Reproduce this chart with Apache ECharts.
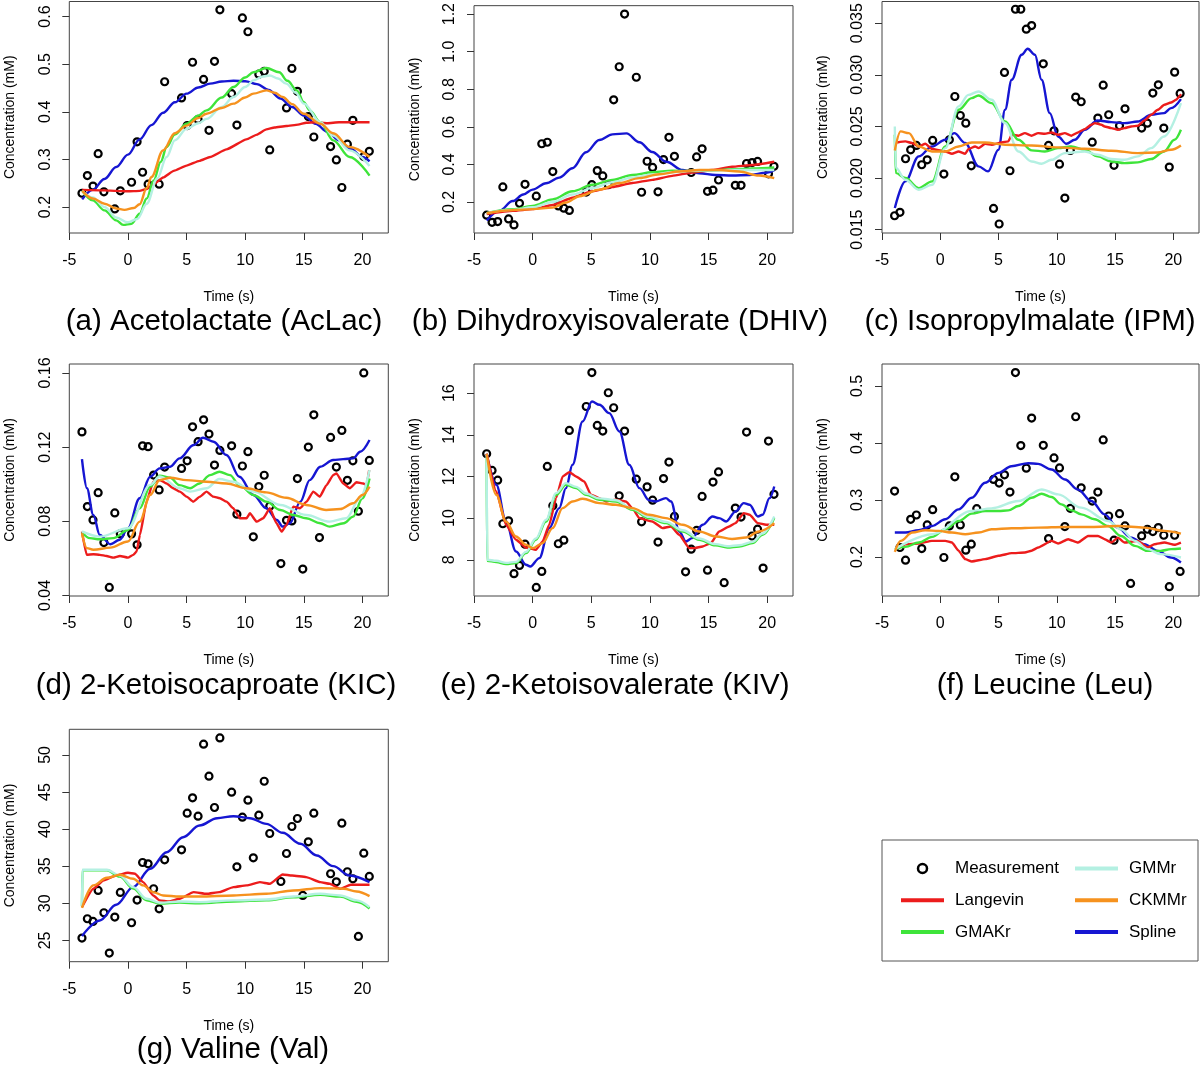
<!DOCTYPE html>
<html><head><meta charset="utf-8">
<script src="https://cdn.jsdelivr.net/npm/echarts@6/dist/echarts.min.js"></script>
<style>html,body{margin:0;padding:0;background:#fff}#chart{width:1200px;height:1069px}</style>
</head><body><div id="chart"></div>
<script>
// ---------- measurement time points (s) ----------
const times = [-3.92,-3.46,-2.98,-2.54,-2.05,-1.59,-1.12,-0.65,0.31,0.78,1.25,1.72,2.19,2.66,3.13,4.57,5.05,5.51,5.98,6.45,6.91,7.38,7.84,8.84,9.29,9.76,10.23,10.69,11.16,11.62,12.09,13.04,13.52,13.98,14.45,14.91,15.38,15.85,16.33,17.28,17.77,18.24,18.71,19.18,19.65,20.11,20.58];

const panelTitles = ['(a) Acetolactate (AcLac)','(b) Dihydroxyisovalerate (DHIV)','(c) Isopropylmalate (IPM)','(d) 2-Ketoisocaproate (KIC)','(e) 2-Ketoisovalerate (KIV)','(f) Leucine (Leu)','(g) Valine (Val)'];
const xTicks = [-5,0,5,10,15,20];
const yTicks_a = [0.2,0.3,0.4,0.5,0.6];
const yTicks_b = [0.2,0.4,0.6,0.8,1.0,1.2];
const yTicks_c = [0.015,0.020,0.025,0.030,0.035];
const yTicks_d = [0.04,0.08,0.12,0.16];
const yTicks_e = [8,10,12,14,16];
const yTicks_f = [0.2,0.3,0.4,0.5];
const yTicks_g = [25,30,35,40,45,50];
const yRange_a = [0.1455,0.6315];
const yRange_b = [0.035,1.245];
const yRange_c = [0.01468,0.0371];
const yRange_d = [0.0397,0.1648];
const yRange_e = [6.26,17.40];
const yRange_f = [0.1313,0.5384];
const yRange_g = [22.13,53.45];

// ---------- measurements (null = not shown) ----------
const meas_a = [0.229,0.266,0.244,0.312,0.232,null,0.196,0.234,0.252,0.337,0.273,0.248,null,0.248,0.463,0.429,0.371,0.504,0.384,0.468,0.361,0.506,0.614,0.438,0.372,0.597,0.568,null,0.479,0.485,0.320,null,0.408,0.491,0.443,null,0.390,0.347,null,0.327,0.299,0.241,0.332,0.382,null,0.306,0.317];
const meas_b = [0.130,0.092,0.096,0.280,0.110,0.078,0.193,0.294,0.231,0.510,0.518,0.362,0.179,0.167,0.155,0.253,0.292,0.367,0.339,0.292,0.744,0.920,1.200,0.864,0.252,0.417,0.384,0.254,0.426,0.544,0.443,null,0.357,0.440,0.483,0.257,0.263,0.317,null,0.289,0.289,0.405,0.410,0.416,null,0.350,0.390];
const meas_c = [0.01635,0.01668,0.02187,0.02274,0.02316,0.02129,0.02177,0.02365,0.02039,0.02371,0.0279,0.02606,0.02532,0.02119,null,0.01706,0.01555,0.03023,0.02071,0.03635,0.03635,0.03442,0.03477,0.03106,0.02316,0.02458,0.02135,0.01806,0.02268,0.02784,0.02739,0.02348,0.02581,0.029,0.02613,0.02123,0.02506,0.02671,null,0.02484,0.02532,0.02823,0.02903,0.02484,0.02106,0.03026,0.0282];
const meas_d = [0.1282,0.0879,0.0807,0.0954,0.0685,0.0443,0.0845,0.0732,0.0732,0.0673,0.1207,0.1202,0.1049,0.0969,0.1092,0.1085,0.1126,0.1309,0.1229,0.1347,0.127,0.1103,0.1182,0.1207,0.0838,0.1098,0.1175,0.0716,0.0987,0.1048,0.0881,0.0572,0.0805,0.0802,0.103,0.0542,0.12,0.1374,0.0712,0.1252,0.1092,0.129,0.1021,0.1126,0.0854,0.16,0.1128];
const meas_e = [13.09,12.29,11.82,9.73,9.87,7.33,7.73,8.75,6.67,7.44,12.48,10.59,8.77,8.94,14.21,15.36,16.99,14.45,14.18,16.02,15.30,11.07,14.18,11.87,9.82,11.50,10.86,8.85,11.90,12.69,10.08,7.42,8.51,9.41,11.04,7.50,11.73,12.22,6.90,10.48,10.05,14.13,9.14,9.47,7.60,13.70,11.14];
const meas_f = [0.3154,0.2164,0.1942,0.2659,0.2734,0.2146,0.256,0.2828,0.1989,0.2542,0.3404,0.256,0.2117,0.2222,0.2845,0.3358,0.3294,0.3439,0.3136,0.5233,0.3952,0.3556,0.4435,0.3957,0.2321,0.3736,0.3561,0.2531,0.2851,0.4458,0.3212,0.2979,0.3136,0.4051,0.2717,0.2292,0.2758,0.2542,0.1534,0.2367,0.2484,0.2443,0.2513,0.2379,0.1476,0.2379,0.1744];
const meas_g = [25.31,27.92,27.56,31.73,28.73,23.29,28.14,31.46,27.38,30.43,35.50,35.32,31.96,29.26,35.86,37.21,42.15,44.21,41.74,51.44,47.13,42.91,52.29,44.97,34.92,41.61,43.90,36.13,41.88,46.45,39.41,32.94,36.71,40.35,41.43,31.06,38.29,42.15,null,33.98,32.90,40.80,34.25,33.30,25.54,36.76,33.62];

// ---------- fitted curves: [time, concentration] ----------
const a_spline = [[-3.9,0.216],[-3,0.236],[-2,0.259],[-1,0.284],[0,0.31],[1,0.342],[2,0.372],[3,0.398],[4,0.42],[5,0.438],[6,0.451],[7,0.459],[8,0.4635],[9,0.465],[10,0.464],[11,0.458],[12,0.446],[13,0.428],[14,0.41],[15,0.392],[16,0.375],[17,0.358],[18,0.34],[19,0.322],[20,0.305],[20.6,0.296]];
const a_langevin = [[-3.9,0.236],[-2,0.235],[-1,0.234],[0,0.233],[1,0.234],[1.6,0.238],[2.2,0.248],[3,0.262],[3.9,0.276],[5,0.287],[6.1,0.297],[7,0.305],[8.4,0.321],[10.1,0.342],[11,0.352],[11.8,0.363],[12.5,0.367],[13.5,0.37],[14.5,0.373],[15.2,0.377],[16,0.378],[17,0.376],[18,0.378],[19,0.378],[20.6,0.378]];
const a_gmakr = [[-3.9,0.234],[-3,0.214],[-2,0.193],[-1,0.172],[-0.4,0.1625],[0.3,0.165],[1,0.186],[1.6,0.218],[2.2,0.256],[2.8,0.295],[3.3,0.326],[4,0.352],[5,0.375],[6,0.392],[6.7,0.403],[8,0.43],[9,0.452],[10,0.472],[10.7,0.483],[11.8,0.492],[12.9,0.483],[13.6,0.465],[14.4,0.445],[15,0.42],[15.5,0.403],[16.4,0.378],[17.5,0.34],[18.9,0.305],[20.6,0.266]];
const a_gmmr = [[-3.9,0.234],[-3,0.22],[-2,0.2],[-1,0.178],[0,0.168],[0.8,0.175],[1.6,0.207],[2.5,0.26],[3.3,0.305],[4,0.34],[5,0.364],[6,0.376],[6.7,0.385],[8,0.41],[9,0.431],[10,0.452],[10.7,0.466],[11.5,0.474],[12.1,0.476],[12.8,0.47],[13.5,0.459],[14.3,0.44],[15,0.417],[16.4,0.378],[17.5,0.35],[18.9,0.319],[20.6,0.286]];
const a_ckmmr = [[-3.9,0.234],[-3,0.218],[-2,0.207],[-1,0.197],[-0.3,0.194],[0.5,0.198],[1,0.206],[1.6,0.24],[2,0.263],[3,0.319],[4,0.355],[5,0.371],[6,0.387],[6.7,0.396],[8,0.408],[9,0.417],[10,0.43],[10.7,0.438],[11.8,0.445],[12.5,0.44],[13.2,0.431],[14,0.416],[15,0.396],[16.4,0.375],[17.5,0.355],[18.9,0.326],[20.6,0.305]];

const b_spline = [[-3.92,0.101],[-2.84,0.153],[-1.7,0.205],[-0.8,0.24],[0,0.266],[1.14,0.3],[2.27,0.33],[3.4,0.38],[4.55,0.465],[5.68,0.53],[6.8,0.56],[8,0.565],[9.1,0.518],[10.2,0.466],[11.4,0.414],[12.8,0.37],[14.2,0.353],[15.6,0.344],[17,0.341],[18.5,0.344],[19.9,0.356],[20.6,0.37]];
const b_langevin = [[-3.92,0.136],[-1.7,0.153],[0,0.162],[1.7,0.184],[3.4,0.223],[5.1,0.257],[6.8,0.28],[8.5,0.301],[10.2,0.318],[11.9,0.339],[13.6,0.357],[15.3,0.37],[17,0.388],[18.75,0.397],[20.6,0.414]];
const b_gmakr = [[-3.92,0.141],[-1.7,0.162],[0,0.179],[1.7,0.214],[3.4,0.257],[5.1,0.292],[6.8,0.318],[8.5,0.344],[10.2,0.358],[11.9,0.366],[13.6,0.365],[15.3,0.368],[17,0.374],[18.75,0.378],[20.6,0.384]];
const b_gmmr = [[-3.92,0.141],[-1.7,0.158],[0,0.172],[1.7,0.2],[3.4,0.24],[5.1,0.275],[6.8,0.305],[8.5,0.33],[10.2,0.345],[11.9,0.358],[13.6,0.366],[15.3,0.368],[17,0.37],[18.75,0.37],[20.6,0.37]];
const b_ckmmr = [[-3.92,0.141],[-1.7,0.157],[0,0.162],[1.7,0.17],[2.84,0.197],[4,0.231],[5.68,0.266],[7.4,0.301],[9.1,0.327],[10.8,0.348],[12.5,0.362],[14.2,0.37],[15.9,0.37],[17.6,0.362],[19.3,0.341],[20.6,0.327]];

const c_spline = [[-3.9,0.0171],[-3,0.01968],[-1.85,0.0221],[-0.7,0.02306],[0.43,0.02371],[1.2,0.02435],[2.14,0.02339],[3.28,0.02113],[4.1,0.02065],[4.99,0.02274],[5.56,0.02661],[6.13,0.02952],[6.98,0.03194],[7.5,0.03252],[8.12,0.03194],[8.69,0.02952],[9.4,0.02629],[10.1,0.02403],[10.83,0.02332],[11.54,0.02371],[12.4,0.02468],[13.5,0.02558],[14.67,0.02542],[15.8,0.02532],[16.95,0.02548],[18.1,0.02613],[19.2,0.02629],[19.8,0.02677],[20.65,0.02765]];
const c_langevin = [[-3.7,0.02345],[-2.99,0.02355],[-2.42,0.02339],[-1.85,0.02306],[-1.28,0.02332],[-0.71,0.02281],[0.43,0.02258],[1.0,0.02235],[1.57,0.02258],[2.14,0.02235],[2.42,0.02281],[2.99,0.02306],[3.28,0.0229],[3.85,0.02332],[4.42,0.02323],[5.27,0.02345],[5.84,0.02355],[6.13,0.02419],[6.7,0.0241],[7.26,0.02435],[7.83,0.0241],[8.4,0.02435],[8.97,0.02429],[9.54,0.02442],[10.11,0.02419],[10.68,0.02435],[11.25,0.0241],[11.82,0.02442],[12.39,0.02474],[12.96,0.02516],[13.25,0.02532],[13.82,0.02516],[14.1,0.025],[14.67,0.02484],[15.24,0.02468],[15.81,0.02484],[16.38,0.025],[16.95,0.02506],[17.52,0.02558],[18.09,0.02613],[18.66,0.02661],[19.23,0.0271],[19.8,0.02732],[20.23,0.02758],[20.51,0.0279],[20.66,0.02813]];
const c_gmakr = [[-3.9,0.0242],[-3.82,0.0205],[-3,0.02],[-1.85,0.01903],[-0.7,0.01968],[0.43,0.02306],[1.57,0.02661],[2.7,0.02774],[3.28,0.028],[4.4,0.02726],[5.56,0.02548],[6.7,0.02371],[7.84,0.02268],[8.97,0.02258],[10.1,0.0229],[11.25,0.02306],[12.4,0.02274],[13.5,0.0221],[14.67,0.02161],[15.8,0.02145],[16.95,0.02152],[18.1,0.02184],[19.2,0.02258],[20.1,0.02371],[20.65,0.02468]];
const c_gmmr = [[-3.9,0.025],[-3.82,0.021],[-3,0.01984],[-1.85,0.01887],[-0.7,0.01935],[0.43,0.0229],[1.57,0.02694],[2.42,0.02806],[3.28,0.02839],[4.4,0.02758],[5.56,0.02532],[6.7,0.02258],[7.84,0.02161],[8.7,0.02139],[9.54,0.02177],[10.7,0.02242],[12.4,0.02258],[13.5,0.02226],[14.67,0.02184],[15.8,0.02177],[16.95,0.0221],[18.1,0.0229],[19.2,0.02403],[20.65,0.02726]];
const c_ckmmr = [[-3.9,0.02268],[-3.4,0.02452],[-2.7,0.02435],[-1.85,0.02306],[-0.7,0.02258],[0.43,0.02258],[1.57,0.02306],[2.7,0.02345],[3.85,0.02345],[5.56,0.02323],[7.84,0.02316],[10.1,0.02297],[12.4,0.02284],[14.67,0.02265],[16.95,0.02242],[18.65,0.02248],[19.8,0.02274],[20.65,0.02316]];

const d_spline = [[-3.92,0.1135],[-3.5,0.0978],[-2.95,0.0834],[-2.4,0.0726],[-1.5,0.0676],[-0.7,0.07],[0,0.0762],[1,0.0924],[1.9,0.104],[2.7,0.1085],[3.6,0.1094],[4.4,0.1139],[5.6,0.1211],[6.4,0.125],[7.3,0.1229],[8.4,0.1157],[9.5,0.104],[10.7,0.0942],[11.8,0.087],[12.7,0.0807],[13.2,0.0771],[13.8,0.0789],[14.7,0.0906],[15.5,0.1022],[16.4,0.1094],[17.5,0.113],[18.35,0.1135],[19.2,0.1139],[19.8,0.1175],[20.6,0.1238]];
const d_langevin = [[-3.92,0.0744],[-3.52,0.0619],[-2.95,0.0622],[-2.39,0.0619],[-1.82,0.0613],[-1.25,0.0604],[-0.68,0.0613],[0,0.0604],[0.45,0.0619],[0.74,0.0637],[1.02,0.0726],[1.59,0.0906],[2.16,0.1013],[2.73,0.1022],[3.3,0.1004],[3.86,0.0978],[4.43,0.096],[5.0,0.0933],[5.57,0.0906],[6.14,0.0933],[6.7,0.096],[7.27,0.0933],[7.84,0.0924],[8.41,0.0906],[8.98,0.087],[9.55,0.0816],[10.11,0.0816],[10.4,0.0843],[10.97,0.0798],[11.53,0.0816],[12.1,0.087],[12.67,0.0789],[13.1,0.0744],[13.52,0.078],[14.09,0.0879],[14.66,0.087],[15.23,0.0906],[15.8,0.096],[16.36,0.0933],[16.93,0.0995],[17.5,0.1049],[17.78,0.1058],[18.35,0.1004],[18.92,0.0978],[19.49,0.101],[20.06,0.1004],[20.34,0.0995],[20.57,0.1076]];
const d_gmakr = [[-3.92,0.0741],[-3.24,0.0709],[-2.4,0.0703],[-1.25,0.0709],[0,0.0753],[1,0.087],[1.9,0.0987],[2.7,0.1046],[3.6,0.1035],[4.4,0.0995],[5.3,0.0978],[6.1,0.1004],[7,0.1049],[7.8,0.1067],[8.7,0.1049],[9.5,0.0995],[10.7,0.0942],[11.8,0.0906],[13,0.0861],[14.1,0.0834],[15.2,0.0816],[16.4,0.0789],[17.2,0.0771],[18.4,0.0789],[19.2,0.0825],[20,0.0924],[20.6,0.1031]];
const d_gmmr = [[-3.92,0.0745],[-2.4,0.0717],[0,0.0762],[1.9,0.0996],[2.7,0.1041],[4.4,0.0978],[5.3,0.096],[6.7,0.0978],[7.8,0.1028],[8.98,0.1013],[10.7,0.096],[13,0.0888],[15.2,0.0834],[17.2,0.0798],[18.6,0.0816],[19.8,0.0924],[20.6,0.1076]];
const d_ckmmr = [[-3.92,0.0735],[-3.5,0.0655],[-2.95,0.0646],[-1.5,0.0658],[0,0.0691],[1,0.0798],[1.9,0.0942],[2.7,0.1022],[3.6,0.1035],[5,0.1022],[6.7,0.1013],[8.4,0.1004],[10.1,0.0978],[11.8,0.0956],[13.5,0.0927],[15.2,0.0888],[16.9,0.0861],[18.1,0.0866],[19.2,0.0897],[20,0.0942],[20.6,0.0987]];

const e_spline = [[-3.92,13.09],[-3.1,11.6],[-2.27,9.84],[-1.42,8.4],[-0.57,7.76],[-0.2,7.68],[0.57,8.08],[1.42,9.52],[2.27,10.48],[2.84,11.44],[3.4,12.56],[4.26,14.64],[5.06,15.6],[5.7,15.44],[6.53,15.04],[7.4,14.16],[8.24,12.56],[9.1,11.44],[9.94,10.85],[10.5,10.8],[11.36,10.96],[11.8,10.8],[12.5,9.36],[13.07,8.88],[13.6,9.04],[14.5,9.68],[15.34,10.08],[15.9,10.0],[16.5,9.84],[17.3,10.32],[18,10.72],[18.5,10.64],[19.2,10.08],[19.6,10.16],[20.2,10.96],[20.6,11.52]];
const e_langevin = [[-3.92,13.09],[-3.1,11.28],[-2.27,9.68],[-1.42,8.96],[-0.57,8.59],[0.28,8.48],[0.85,8.88],[1.42,9.68],[2,10.96],[2.56,12.0],[3.13,12.21],[3.7,12.0],[4.4,11.76],[4.97,11.12],[5.68,10.96],[6.25,10.8],[7.1,10.88],[7.95,10.8],[8.5,10.48],[9.1,10.0],[10.2,9.84],[11.08,9.52],[11.8,9.6],[12.5,9.2],[13.35,8.56],[13.8,8.56],[14.5,8.64],[15.2,8.8],[15.9,9.36],[16.76,9.6],[17.3,9.76],[18,10.24],[18.5,10.16],[19.2,9.76],[19.9,9.68],[20.6,9.68]];
const e_gmakr = [[-3.92,12.9],[-3.88,7.95],[-3.1,7.89],[-2.27,7.79],[-1.42,7.84],[-0.57,8.32],[0.28,8.96],[1.14,9.84],[2,11.12],[2.84,11.6],[3.7,11.44],[4.55,11.12],[5.68,10.88],[7.1,10.8],[8.5,10.4],[9.94,10.0],[11.36,9.76],[12.8,9.36],[14.2,8.96],[15.6,8.69],[16.6,8.59],[17.6,8.64],[18.75,8.8],[19.6,9.2],[20.6,10.0]];
const e_gmmr = [[-3.92,13.0],[-3.88,8.0],[-3.1,7.95],[-2.27,7.85],[-1.42,7.9],[-0.57,8.38],[0.28,9.02],[1.14,9.92],[2,11.2],[2.84,11.68],[3.7,11.5],[4.55,11.18],[5.68,10.95],[7.1,10.86],[8.5,10.46],[9.94,10.06],[11.36,9.82],[12.8,9.42],[14.2,9.02],[15.6,8.75],[16.6,8.65],[17.6,8.7],[18.75,8.86],[19.6,9.26],[20.6,10.08]];
const e_ckmmr = [[-3.92,13.09],[-3.1,11.12],[-2.27,9.84],[-1.42,9.12],[-0.57,8.72],[0,8.56],[0.85,8.8],[1.7,9.52],[2.56,10.48],[3.4,10.8],[4.26,10.93],[5.68,10.72],[7.1,10.64],[8.5,10.48],[9.94,10.16],[11.36,10.0],[12.8,9.68],[14.2,9.36],[15.6,9.12],[17,9.0],[18.2,9.07],[19.3,9.36],[20.6,9.76]];

const f_spline = [[-3.9,0.2426],[-3,0.2426],[-1.85,0.2467],[-0.7,0.2542],[0.43,0.2659],[1.57,0.2833],[2.7,0.3037],[3.84,0.3299],[5,0.3474],[6.1,0.3591],[7.55,0.3643],[8.4,0.3631],[9.54,0.3532],[10.7,0.3358],[11.8,0.3183],[12.96,0.2979],[14.1,0.2746],[15.2,0.2513],[16.4,0.2338],[17.5,0.2222],[18.65,0.2105],[19.8,0.1989],[20.65,0.1902]];
const f_langevin = [[-3.85,0.2135],[-3.56,0.2164],[-2.99,0.2222],[-1.85,0.2234],[-0.71,0.228],[0.43,0.228],[1.0,0.2251],[1.57,0.2106],[2.14,0.196],[2.71,0.1919],[3.85,0.196],[4.99,0.2018],[6.13,0.2065],[7.26,0.2076],[7.83,0.2106],[8.4,0.2164],[9.54,0.228],[10.11,0.2234],[10.97,0.2309],[11.82,0.2251],[12.68,0.2367],[13.53,0.2367],[14.1,0.2309],[14.67,0.2251],[15.24,0.2338],[15.81,0.2251],[16.95,0.228],[17.81,0.2164],[18.38,0.2222],[19.23,0.2251],[20.09,0.2211],[20.65,0.2251]];
const f_gmakr = [[-3.9,0.2135],[-3,0.2175],[-1.85,0.2251],[-0.7,0.235],[0.43,0.2484],[1.57,0.263],[2.7,0.2758],[3.84,0.2804],[5,0.2804],[5.84,0.2816],[6.7,0.2892],[7.84,0.3037],[8.7,0.3107],[9.54,0.3049],[10.4,0.2921],[11.25,0.2816],[12.1,0.2746],[13.24,0.2659],[14.4,0.2542],[15.5,0.2367],[16.7,0.2193],[17.8,0.2105],[18.9,0.2105],[19.8,0.2135],[20.65,0.2146]];
const f_gmmr = [[-3.9,0.2135],[-0.7,0.2397],[2.7,0.2804],[4.4,0.2851],[6.7,0.2979],[8.7,0.3183],[10.11,0.3096],[12.1,0.2863],[14.4,0.263],[15.5,0.2484],[16.7,0.2281],[17.8,0.2135],[18.9,0.2047],[20.65,0.1989]];
const f_ckmmr = [[-3.9,0.2088],[-3.4,0.228],[-2.4,0.2426],[-1.3,0.2467],[-0.14,0.2455],[1,0.2426],[2.14,0.2397],[3.3,0.2426],[4.4,0.2484],[6.13,0.2502],[8.4,0.2513],[10.68,0.2525],[12.96,0.2525],[15.24,0.2542],[17.52,0.2513],[19.23,0.2455],[20.65,0.2408]];

const g_spline = [[-3.92,25.58],[-2.4,27.69],[-1,29.8],[0.45,32.18],[1.9,34.65],[3.3,36.89],[4.7,38.91],[6.1,40.48],[7.6,41.47],[9,41.74],[10.4,41.47],[11.8,40.71],[13.2,39.5],[14.7,38.02],[16.1,36.45],[17.5,35.01],[18.9,33.75],[20.6,32.85]];
const g_langevin = [[-3.92,29.49],[-2.95,31.96],[-2.1,33.08],[-1,33.75],[0,34.11],[0.6,33.98],[1.3,32.85],[2.16,31.06],[2.7,30.39],[3.5,30.25],[4.4,30.61],[5.6,31.51],[6.7,31.28],[7.8,31.51],[9,32.18],[10.1,32.41],[11.25,32.85],[12.1,32.63],[13.2,33.89],[14,33.75],[15.2,33.53],[16.4,32.85],[17.2,32.63],[18.1,31.96],[19,32.5],[20.6,32.5]];
const g_gmakr = [[-3.92,29.6],[-3.88,34.45],[-1.8,34.45],[-0.7,33.6],[0.45,32.0],[1.6,30.4],[2.7,29.95],[4.4,30.1],[6.1,30.0],[9,30.25],[11.8,30.4],[14.1,30.8],[16.4,31.15],[18.1,30.9],[19.5,30.2],[20.6,29.3]];
const g_gmmr = [[-3.92,29.6],[-3.88,34.52],[-1.8,34.52],[-0.7,33.75],[0.45,32.18],[1.6,30.61],[2.7,30.07],[4.4,30.25],[6.1,30.16],[9,30.39],[11.8,30.52],[14.1,30.92],[16.4,31.28],[18.1,31.06],[19.5,30.39],[20.6,29.49]];
const g_ckmmr = [[-3.92,29.4],[-2.95,32.41],[-1.8,33.44],[-0.7,33.84],[0.45,33.3],[1.3,32.41],[2.16,31.51],[3,31.06],[4.4,30.92],[6.1,30.92],[9,31.06],[11.8,31.28],[14.1,31.73],[16.4,32.05],[18.4,31.96],[19.5,31.6],[20.6,30.97]];

// ---------- assembly ----------
const FONT = '"Liberation Sans", Arial, Helvetica, sans-serif';
const COLORS = {Langevin:'#ec1c1c', GMAKr:'#3ee43a', GMMr:'#b4f0e2', CKMMr:'#f6921e', Spline:'#1616d2'};
const panels = [
  {meas:meas_a, yt:yTicks_a, yr:yRange_a, dec:1, c:{Spline:a_spline,Langevin:a_langevin,GMAKr:a_gmakr,GMMr:a_gmmr,CKMMr:a_ckmmr}},
  {meas:meas_b, yt:yTicks_b, yr:yRange_b, dec:1, c:{Spline:b_spline,Langevin:b_langevin,GMAKr:b_gmakr,GMMr:b_gmmr,CKMMr:b_ckmmr}},
  {meas:meas_c, yt:yTicks_c, yr:yRange_c, dec:3, c:{Spline:c_spline,Langevin:c_langevin,GMAKr:c_gmakr,GMMr:c_gmmr,CKMMr:c_ckmmr}},
  {meas:meas_d, yt:yTicks_d, yr:yRange_d, dec:2, c:{Spline:d_spline,Langevin:d_langevin,GMAKr:d_gmakr,GMMr:d_gmmr,CKMMr:d_ckmmr}},
  {meas:meas_e, yt:yTicks_e, yr:yRange_e, dec:0, c:{Spline:e_spline,Langevin:e_langevin,GMAKr:e_gmakr,GMMr:e_gmmr,CKMMr:e_ckmmr}},
  {meas:meas_f, yt:yTicks_f, yr:yRange_f, dec:1, c:{Spline:f_spline,Langevin:f_langevin,GMAKr:f_gmakr,GMMr:f_gmmr,CKMMr:f_ckmmr}},
  {meas:meas_g, yt:yTicks_g, yr:yRange_g, dec:0, c:{Spline:g_spline,Langevin:g_langevin,GMAKr:g_gmakr,GMMr:g_gmmr,CKMMr:g_ckmmr}}
];
const colLeft = [69.3, 474, 882], colWidth = [319, 319, 317];
const rowTop = [1.5, 364, 729.3], rowHeight = [231.5, 232, 232.4];
const titleY = [322, 686, 1050];
const titleX = [224, 620, 1030, 216, 615, 1045, 233];
const drawOrder = ['Spline','Langevin','GMAKr','GMMr','CKMMr'];

const grid = [], xAxis = [], yAxis = [], series = [], graphic = [];
panels.forEach((p, i) => {
  const r = Math.floor(i / 3), c = i % 3;
  grid.push({left: colLeft[c], top: rowTop[r], width: colWidth[c], height: rowHeight[r],
    show: true, borderColor: '#444', borderWidth: 1, backgroundColor: 'transparent'});
  xAxis.push({gridIndex: i, type: 'value', min: -5, max: 22.2,
    axisLine: {show: false, onZero: false}, splitLine: {show: false},
    axisTick: {show: true, length: 7, customValues: xTicks, lineStyle: {color: '#333', width: 1}},
    axisLabel: {customValues: xTicks, fontSize: 16, color: '#000', margin: 20, fontFamily: FONT},
    name: 'Time (s)', nameLocation: 'middle', nameGap: 57,
    nameTextStyle: {fontSize: 14, color: '#000', fontFamily: FONT}});
  yAxis.push({gridIndex: i, type: 'value', min: p.yr[0], max: p.yr[1],
    axisLine: {show: false, onZero: false}, splitLine: {show: false},
    axisTick: {show: true, length: 7, customValues: p.yt, lineStyle: {color: '#333', width: 1}},
    axisLabel: {customValues: p.yt, rotate: 90, fontSize: 16, color: '#000', margin: 16, fontFamily: FONT,
      formatter: (v) => Number(v).toFixed(p.dec)},
    name: 'Concentration (mM)', nameLocation: 'middle', nameRotate: 90, nameGap: 52,
    nameTextStyle: {fontSize: 14, color: '#000', fontFamily: FONT}});
  const pts = [];
  times.forEach((t, k) => { if (p.meas[k] != null) pts.push([t, p.meas[k]]); });
  series.push({name: 'Measurement', type: 'scatter', xAxisIndex: i, yAxisIndex: i, data: pts,
    symbol: 'circle', symbolSize: 7,
    itemStyle: {color: 'rgba(255,255,255,0)', borderColor: '#000', borderWidth: 2.2, opacity: 1}, z: 2});
  drawOrder.forEach((name) => {
    series.push({name, type: 'line', xAxisIndex: i, yAxisIndex: i, data: p.c[name],
      showSymbol: false, symbol: 'none', smooth: name === 'Langevin' ? 0.15 : 0.35, smoothMonotone: 'x',
      lineStyle: {color: COLORS[name], width: 2.4}, itemStyle: {color: COLORS[name]}, z: 3});
  });
  graphic.push({type: 'text', x: titleX[i], y: titleY[r],
    style: {text: panelTitles[i], font: '29.5px ' + FONT, fill: '#000',
      align: 'center', verticalAlign: 'middle', textAlign: 'center', textVerticalAlign: 'middle'}});
});
graphic.push({type: 'rect', shape: {x: 882, y: 840, width: 316, height: 121},
  style: {fill: 'none', stroke: '#555', lineWidth: 1}});

const hideSym = {color: 'rgba(0,0,0,0)', borderWidth: 0, opacity: 0};
const legendCommon = {orient: 'vertical', itemWidth: 43, itemHeight: 9, itemGap: 14.7, selectedMode: false,
  lineStyle: {width: 4}, textStyle: {fontSize: 17, lineHeight: 17, color: '#000', fontFamily: FONT, padding: [0, 0, 0, 6]}};
const legend = [
  Object.assign({}, legendCommon, {left: 894, top: 855, data: [
    {name: 'Measurement', itemStyle: {color: 'rgba(255,255,255,0)', borderColor: '#000', borderWidth: 2.5, opacity: 1}},
    {name: 'Langevin', itemStyle: hideSym}, {name: 'GMAKr', itemStyle: hideSym}]}),
  Object.assign({}, legendCommon, {left: 1068, top: 855, data: [
    {name: 'GMMr', itemStyle: hideSym}, {name: 'CKMMr', itemStyle: hideSym}, {name: 'Spline', itemStyle: hideSym}]})
];

const chart = echarts.init(document.getElementById('chart'), null, {renderer: 'canvas'});
chart.setOption({animation: false, backgroundColor: '#fff', grid, xAxis, yAxis, series, legend, graphic});
</script>
</body></html>
